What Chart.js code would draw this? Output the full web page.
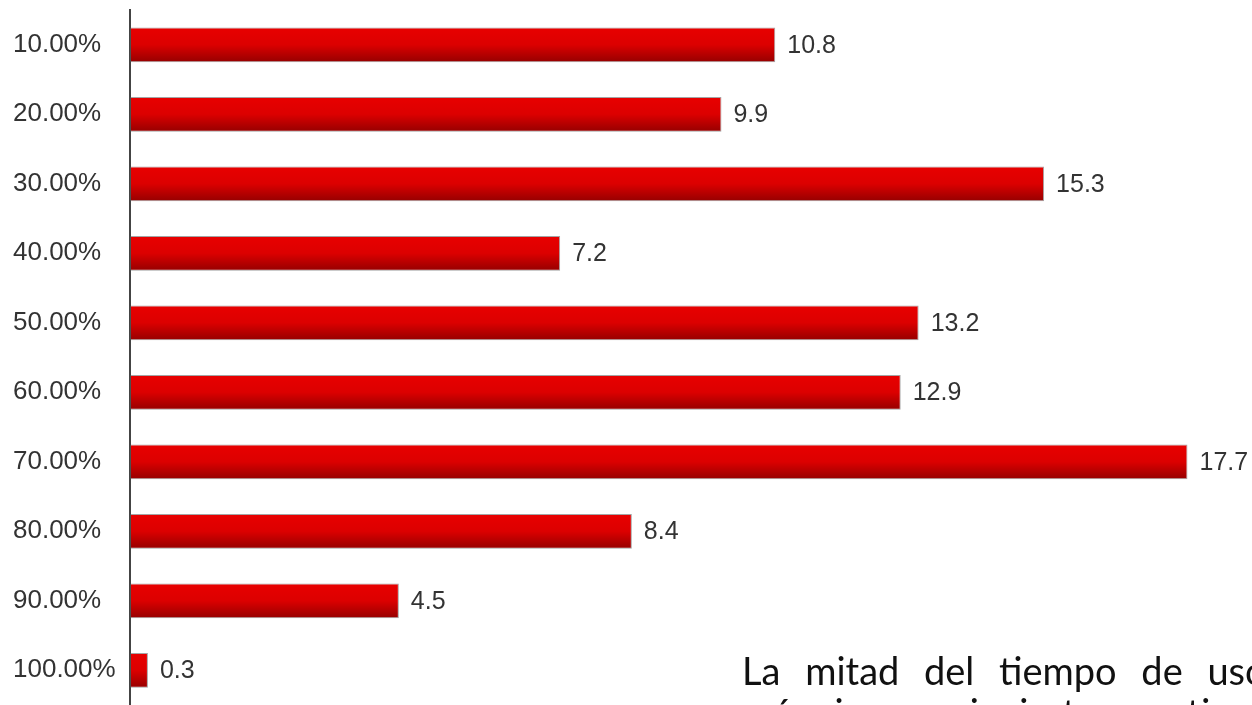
<!DOCTYPE html>
<html>
<head>
<meta charset="utf-8">
<script src="https://cdn.jsdelivr.net/npm/chart.js@4.4.1/dist/chart.umd.min.js"></script>
<style>
  html, body { margin: 0; padding: 0; background: #fff; overflow: hidden; }
  #wrap { position: relative; width: 1252px; height: 705px; overflow: hidden; }
  canvas { display: block; }
  #note {
    position: absolute; left: 742px; top: 649px;
    font-family: Lato, "DejaVu Sans", sans-serif; font-size: 38px; line-height: 42px;
    color: #111; white-space: nowrap; word-spacing: 15px;
  }
</style>
</head>
<body>
<div id="wrap">
  <canvas id="myChart" width="1252" height="705"></canvas>
  <div id="note">La mitad del tiempo de uso<br>máquina se invierte en tiempo</div>
</div>
<script>
const categories = ['10.00%', '20.00%', '30.00%', '40.00%', '50.00%', '60.00%', '70.00%', '80.00%', '90.00%', '100.00%'];
const values = [10.8, 9.9, 15.3, 7.2, 13.2, 12.9, 17.7, 8.4, 4.5, 0.3];

// each bar gets its own top-to-bottom red gradient
const barGradient = {
  id: 'barGradient',
  beforeDatasetsDraw(chart) {
    const ctx = chart.ctx;
    chart.getDatasetMeta(0).data.forEach(el => {
      const top = el.y - el.height / 2;
      const g = ctx.createLinearGradient(0, top, 0, top + el.height);
      g.addColorStop(0, '#e80000');
      g.addColorStop(0.5, '#dc0000');
      g.addColorStop(1, '#960000');
      el.options.backgroundColor = g;
    });
  }
};

// value next to the end of each bar
const valueLabels = {
  id: 'valueLabels',
  afterDatasetsDraw(chart) {
    const ctx = chart.ctx;
    ctx.save();
    ctx.font = '25px "Liberation Sans", Arial, sans-serif';
    ctx.fillStyle = '#333';
    ctx.textAlign = 'left';
    ctx.textBaseline = 'middle';
    chart.getDatasetMeta(0).data.forEach((el, i) => {
      ctx.fillText(values[i].toFixed(1), el.x + 12, el.y + 1);
    });
    ctx.restore();
  }
};

const chart = new Chart(document.getElementById('myChart'), {
  type: 'bar',
  data: {
    labels: categories,
    datasets: [{
      data: values,
      // scriptable so every bar keeps its own options object
      backgroundColor: () => '#dc0000',
      borderColor: 'rgba(90, 90, 90, 0.55)',
      borderWidth: 1,
      borderSkipped: false,
      barPercentage: 0.5,
      categoryPercentage: 1
    }]
  },
  options: {
    indexAxis: 'y',
    responsive: false,
    animation: false,
    events: [],
    layout: { padding: { left: 13, top: 10, right: 0, bottom: 0 } },
    plugins: {
      legend: { display: false },
      tooltip: { enabled: false }
    },
    scales: {
      x: {
        display: false,
        min: 0,
        max: 18.78
      },
      y: {
        grid: { display: false, drawTicks: false },
        border: { display: true, color: '#444', width: 2 },
        ticks: {
          crossAlign: 'far',
          color: '#333',
          padding: 14,
          font: { family: '"Liberation Sans", Arial, sans-serif', size: 26 }
        },
        afterFit(scale) {
          scale.width = 117;
          scale.paddingTop = 0;
          scale.paddingBottom = 0;
        }
      }
    }
  },
  plugins: [barGradient, valueLabels]
});
</script>
</body>
</html>
